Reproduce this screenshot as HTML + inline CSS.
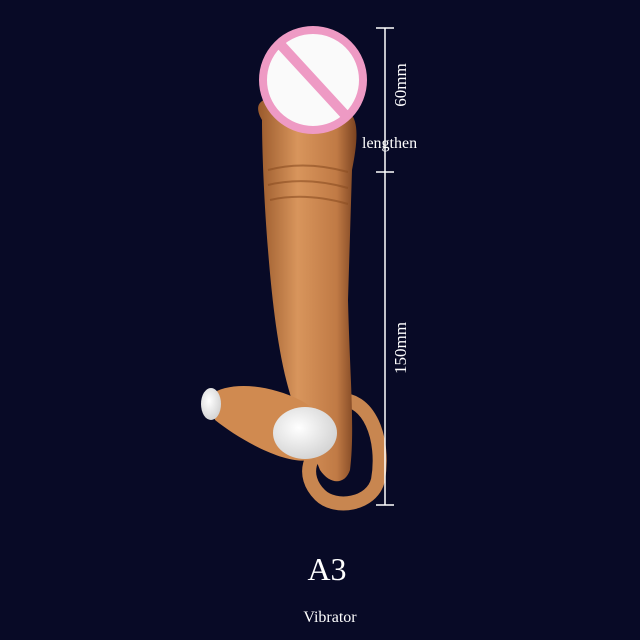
<!DOCTYPE html>
<html><head><meta charset="utf-8"><style>
html,body{margin:0;padding:0;background:#080a26;}
svg{display:block}
</style></head><body>
<svg width="640" height="640" viewBox="0 0 640 640" xmlns="http://www.w3.org/2000/svg">
<defs>
<linearGradient id="sk" x1="0" x2="1" y1="0" y2="0">
<stop offset="0" stop-color="#9a5a2c"/><stop offset="0.4" stop-color="#d8955c"/><stop offset="0.8" stop-color="#c07a45"/><stop offset="1" stop-color="#7a4220"/>
</linearGradient>
<radialGradient id="wh" cx="0.4" cy="0.4" r="0.7"><stop offset="0" stop-color="#ffffff"/><stop offset="1" stop-color="#cfcfcf"/></radialGradient>
</defs>
<rect width="640" height="640" fill="#080a26"/>
<!-- ring -->
<path d="M335 400 C370 395 385 440 378 480 C372 505 335 510 320 495 C300 475 310 450 330 445" fill="none" stroke="#c88650" stroke-width="14"/>
<!-- body -->
<path d="M262 120 C250 100 268 95 285 100 L345 110 C360 115 358 140 352 170 L348 300 C350 380 355 430 350 470 C345 485 330 485 320 470 L300 420 C280 380 272 300 268 250 C264 200 262 150 262 120 Z" fill="url(#sk)"/>
<path d="M268 170 Q305 160 348 172 M268 185 Q305 176 348 188 M270 200 Q305 192 348 204" stroke="#8a4d22" stroke-width="2" fill="none" opacity="0.6"/>
<!-- vibrator housing -->
<path d="M210 395 C230 380 270 385 300 400 C325 412 330 450 310 460 C285 465 240 440 215 420 Z" fill="#d08a50"/>
<ellipse cx="211" cy="404" rx="10" ry="16" fill="url(#wh)"/>
<ellipse cx="305" cy="433" rx="32" ry="26" fill="url(#wh)"/>
<!-- censor circle -->
<circle cx="313" cy="80" r="50" fill="#fafafa" stroke="#ee9ac4" stroke-width="8"/>
<line x1="280" y1="44" x2="348" y2="118" stroke="#ee9ac4" stroke-width="10"/>
<!-- measure -->
<g stroke="#ffffff" stroke-width="1.5">
<line x1="385" y1="28" x2="385" y2="505"/>
<line x1="376" y1="28" x2="394" y2="28"/>
<line x1="376" y1="172" x2="394" y2="172"/>
<line x1="376" y1="505" x2="394" y2="505"/>
</g>
<g fill="#fff" font-family="'Liberation Serif',serif">
<text x="0" y="0" font-size="17" text-anchor="middle" transform="translate(406,85) rotate(-90)">60mm</text>
<text x="362" y="148" font-size="16">lengthen</text>
<text x="0" y="0" font-size="17" text-anchor="middle" transform="translate(406,348) rotate(-90)">150mm</text>
<text x="327" y="580" font-size="32" text-anchor="middle">A3</text>
<text x="330" y="622" font-size="16" text-anchor="middle">Vibrator</text>
</g>
</svg>
</body></html>
